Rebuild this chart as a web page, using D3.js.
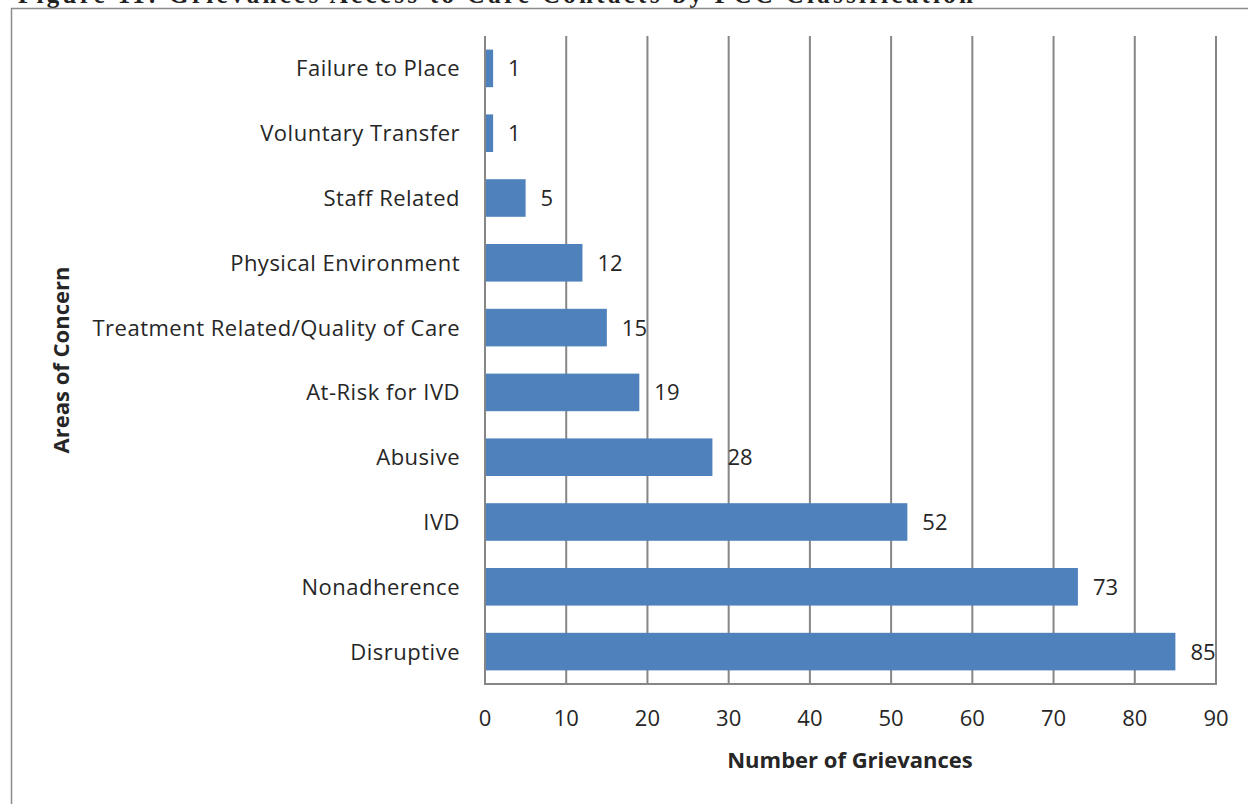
<!DOCTYPE html>
<html lang="en">
<head>
  <meta charset="UTF-8" />
  <title>Grievances by Area of Concern</title>
  <script src="https://d3js.org/d3.v7.min.js"></script>
  <style>
    body { margin: 0; background: #fff; }
    svg { display: block; font-family: "Open Sans", Lato, sans-serif; }
    .cat { font-size: 22px; letter-spacing: 0.5px; fill: #262626; }
    .val, .tick-x { font-size: 22px; fill: #262626; }
    .axis-title { font-size: 22px; font-weight: bold; fill: #262626; }
  </style>
</head>
<body>
  <svg></svg>
  <script>
    const categories = ["Failure to Place", "Voluntary Transfer", "Staff Related", "Physical Environment",
      "Treatment Related/Quality of Care", "At-Risk for IVD", "Abusive", "IVD", "Nonadherence", "Disruptive"];
    const values = [1, 1, 5, 12, 15, 19, 28, 52, 73, 85];
    const xTicks = [0, 10, 20, 30, 40, 50, 60, 70, 80, 90];

    const width = 1248, height = 804;
    const plot = { left: 485, right: 1216, top: 36, bottom: 684 };

    const svg = d3.select("svg").attr("width", width).attr("height", height);

    // cut-off caption at the very top
    svg.append("text")
      .attr("x", 18).attr("y", 3)
      .attr("textLength", 955).attr("lengthAdjust", "spacing")
      .style("font-family", "'Liberation Serif', serif")
      .style("font-weight", "bold").style("font-size", "25px").style("fill", "#222")
      .text("Figure 11: Grievances Access to Care Contacts by PCC Classification");

    // chart frame
    svg.append("rect")
      .attr("x", 11.5).attr("y", 8.5).attr("width", 1300).attr("height", 900)
      .attr("fill", "none").attr("stroke", "#8c8c8c").attr("stroke-width", 1.5);

    const x = d3.scaleLinear().domain([0, 90]).range([plot.left, plot.right]);
    const y = d3.scaleBand().domain(categories).range([plot.top, plot.bottom]).paddingInner(0.42).paddingOuter(0.21);

    // gridlines
    svg.append("g").selectAll("line")
      .data(xTicks.slice(1))
      .enter().append("line")
      .attr("x1", d => x(d)).attr("x2", d => x(d))
      .attr("y1", plot.top).attr("y2", plot.bottom)
      .attr("stroke", "#868686").attr("stroke-width", 2);

    // bars
    svg.append("g").selectAll("rect")
      .data(values)
      .enter().append("rect")
      .attr("x", x(0))
      .attr("y", (d, i) => y(categories[i]))
      .attr("width", d => x(d) - x(0))
      .attr("height", y.bandwidth())
      .attr("fill", "#4f81bd");

    // value labels
    svg.append("g").selectAll("text")
      .data(values)
      .enter().append("text")
      .attr("class", "val")
      .attr("x", d => x(d) + 15)
      .attr("y", (d, i) => y(categories[i]) + y.bandwidth() / 2)
      .attr("dy", "0.36em")
      .text(d => d);

    // axes lines
    svg.append("line")
      .attr("x1", plot.left).attr("x2", plot.left).attr("y1", plot.top).attr("y2", plot.bottom + 1)
      .attr("stroke", "#868686").attr("stroke-width", 2);
    svg.append("line")
      .attr("x1", plot.left - 1).attr("x2", plot.right + 1).attr("y1", plot.bottom).attr("y2", plot.bottom)
      .attr("stroke", "#868686").attr("stroke-width", 2);

    // category labels
    svg.append("g").selectAll("text")
      .data(categories)
      .enter().append("text")
      .attr("class", "cat")
      .attr("x", plot.left - 25)
      .attr("y", d => y(d) + y.bandwidth() / 2)
      .attr("dy", "0.36em")
      .attr("text-anchor", "end")
      .text(d => d);

    // x tick labels
    svg.append("g").selectAll("text")
      .data(xTicks)
      .enter().append("text")
      .attr("class", "tick-x")
      .attr("x", d => x(d))
      .attr("y", 726)
      .attr("text-anchor", "middle")
      .text(d => d);

    svg.append("text")
      .attr("class", "axis-title")
      .attr("x", 850).attr("y", 768)
      .attr("text-anchor", "middle")
      .text("Number of Grievances");

    svg.append("text")
      .attr("class", "axis-title")
      .attr("transform", "translate(69,360) rotate(-90)")
      .attr("text-anchor", "middle")
      .text("Areas of Concern");
  </script>
</body>
</html>
